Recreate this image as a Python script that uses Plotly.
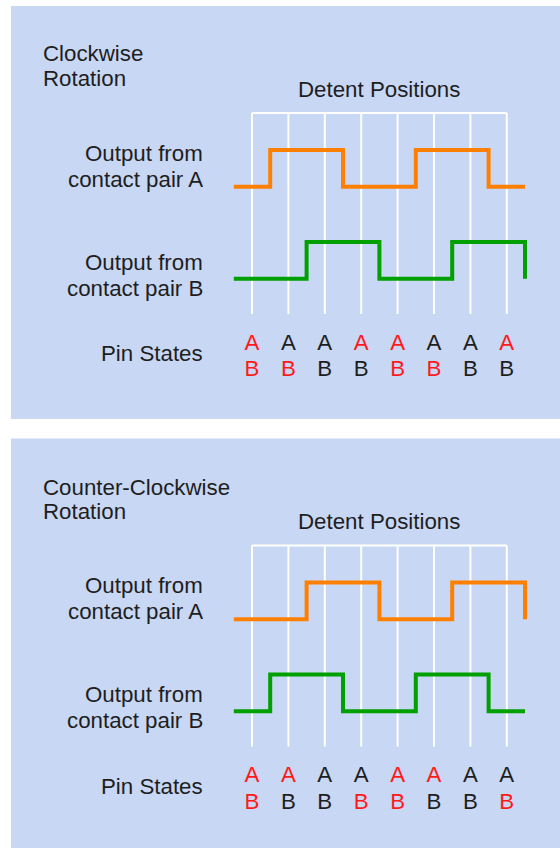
import plotly.graph_objects as go

# detent index and the logic level of each contact pair at every detent
# (the last entry is the level the trace drops/rises to at the right edge)
detents = list(range(8))
cw_a = [0, 1, 1, 0, 0, 1, 1, 0, 0]
cw_b = [0, 0, 1, 1, 0, 0, 1, 1, 0]
ccw_a = [0, 0, 1, 1, 0, 0, 1, 1, 0]
ccw_b = [0, 1, 1, 0, 0, 1, 1, 0, 0]

titles = [["Clockwise", "Rotation"], ["Counter-Clockwise", "Rotation"]]
labels_a = ["Output from", "contact pair A"]
labels_b = ["Output from", "contact pair B"]
pin_label = "Pin States"
header = "Detent Positions"

# ---- layout (pixels) ----
W, H = 560, 848
X0, DX = 252, 36.4          # pixel of detent 0, pixels per detent
OFFSETS = [0, 432.5]         # vertical offset of each panel
TITLE_Y = [(52.5, 77.5), (54, 78)]
AMP = 36.8                   # high/low distance of a waveform
BG = "#c8d7f3"
ORANGE = "#ff8000"
GREEN = "#00a000"
RED = "#ff1a1a"
INK = "#1e1e1e"
FONT = "Liberation Sans, Arial, sans-serif"
FS = 22.3

fig = go.Figure()
ann = []
shapes = []


def wave(levels, low_y, off, color):
    xs = [d - 0.5 for d in detents] + [detents[-1] + 0.5]
    ys = [off + low_y - lv * AMP for lv in levels]
    fig.add_trace(go.Scatter(
        x=xs, y=ys, mode="lines", line=dict(color=color, width=4, shape="hv"),
        hoverinfo="skip", showlegend=False,
    ))


def label(text, x, y, anchor, h=None):
    a = dict(text=text, x=x / W, xref="paper", xanchor=anchor,
             y=y, yref="y", yanchor="middle", showarrow=False,
             font=dict(family=FONT, size=FS, color=INK))
    if h:
        a["height"] = h
    ann.append(a)


for i, (off, (a_lv, b_lv)) in enumerate(zip(OFFSETS, [(cw_a, cw_b), (ccw_a, ccw_b)])):
    shapes.append(dict(
        type="rect", xref="paper", yref="y", x0=11 / W, x1=1.01,
        y0=off + 6, y1=min(off + 419, H + 5),
        fillcolor=BG, line=dict(width=0), layer="below",
    ))

    # white detent grid
    top, bot = off + 113, off + 314
    gx, gy = [], []
    for d in detents:
        gx += [d, d, None]
        gy += [top, bot, None]
    gx += [detents[0], detents[-1]]
    gy += [top, top]
    fig.add_trace(go.Scatter(
        x=gx, y=gy, mode="lines", line=dict(color="white", width=2),
        hoverinfo="skip", showlegend=False,
    ))

    wave(a_lv, 186.7, off, ORANGE)
    wave(b_lv, 278.7, off, GREEN)

    # pin states: red where the contact is low
    for row, lv, y in [("A", a_lv, 344), ("B", b_lv, 370.7)]:
        fig.add_trace(go.Scatter(
            x=detents, y=[off + y] * len(detents), mode="text",
            text=[row] * len(detents),
            textfont=dict(family=FONT, size=FS,
                          color=[RED if v == 0 else INK for v in lv[:len(detents)]]),
            hoverinfo="skip", showlegend=False,
        ))

    for t, ty in zip(titles[i], TITLE_Y[i]):
        label(t, 41, off + ty, "left", h=24)
    label(header, 379, off + 89, "center")
    for j, t in enumerate(labels_a):
        label(t, 205.5, off + 153 + j * 26, "right", h=25)
    for j, t in enumerate(labels_b):
        label(t, 205.5, off + 262 + j * 26, "right", h=25)
    label(pin_label, 205.5, off + 353.5, "right")

fig.update_layout(
    width=W, height=H, margin=dict(l=0, r=0, t=0, b=0),
    paper_bgcolor="white", plot_bgcolor="white",
    xaxis=dict(range=[-X0 / DX, (W - X0) / DX], visible=False, fixedrange=True),
    yaxis=dict(range=[H, 0], visible=False, fixedrange=True),
    shapes=shapes, annotations=ann,
)

fig.write_html(
    "out.html",
    config={"displayModeBar": False},
    post_script="document.body.style.margin='0';document.body.style.overflow='hidden';",
)
